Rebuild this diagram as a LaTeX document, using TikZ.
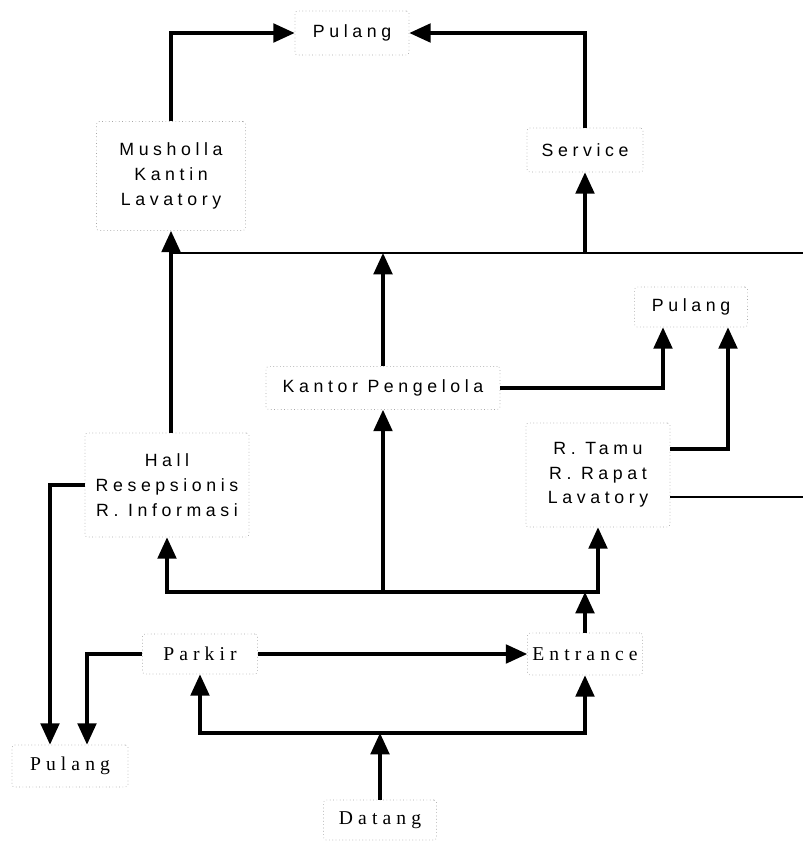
\documentclass[tikz,border=0pt]{standalone}
\usepackage{fontspec}
\setmainfont{Liberation Serif}
\newfontfamily\sansA[LetterSpace=26]{Liberation Sans}
\newfontfamily\serifA[LetterSpace=26]{Liberation Serif}
\usetikzlibrary{arrows.meta,calc}
\begin{document}
\begin{tikzpicture}[x=0.75pt,y=-0.75pt,
 box/.style={draw=black!35, dotted, line width=0.5pt, rounded corners=2pt, inner sep=0pt, align=center},
 sbox/.style={box, font=\sansA\fontsize{13.3}{18.5}\selectfont},
 rbox/.style={box, font=\serifA\fontsize{14.7}{18}\selectfont},
 conn/.style={line width=2.4pt, -{Triangle[length=16pt,width=14pt]}},
 conntwo/.style={line width=2.4pt, {Triangle[length=16pt,width=14pt]}-{Triangle[length=16pt,width=14pt]}},
 plainline/.style={line width=1.7pt}]
\useasboundingbox (0,0) rectangle (803,842);
% nodes
\node[sbox, minimum width=85.5pt, minimum height=33pt] (pTop) at (352,33) {Pulang};
\node[sbox, minimum width=111.75pt, minimum height=81.75pt] (mus) at (171,176) {Musholla\\Kantin\\Lavatory};
\node[sbox, minimum width=87pt, minimum height=33pt] (serv) at (585,150) {Service};
\node[sbox, minimum width=123pt, minimum height=78pt] (hall) at (167,485) {Hall\\Resepsionis\\R. Informasi};
\node[sbox, minimum width=175.5pt, minimum height=32.25pt] (kantor) at (383,388) {Kantor Pengelola};
\node[sbox, minimum width=84.75pt, minimum height=30pt] (pR) at (691,307) {Pulang};
\node[sbox, minimum width=108pt, minimum height=78pt] (tamu) at (598,475) {R. Tamu\\R. Rapat\\Lavatory};
\node[rbox, minimum width=86.25pt, minimum height=30pt] (parkir) at (200,654) {Parkir};
\node[rbox, minimum width=86.25pt, minimum height=31.5pt] (entr) at (585,654) {Entrance};
\node[rbox, minimum width=87pt, minimum height=31.5pt] (pBot) at (70,766) {Pulang};
\node[rbox, minimum width=84.75pt, minimum height=30pt] (datang) at (380,820) {Datang};
% helper coordinates
\coordinate (L1a) at (170,253);
\coordinate (L1b) at (803,253);
\coordinate (L2) at (0,592);
\coordinate (L3) at (0,733);
\coordinate (R2e) at (803,497);
\coordinate (tR1) at ($(tamu.east)+(0,-26)$);
\coordinate (tR2) at ($(tamu.east)+(0,22)$);
\coordinate (pRa) at ($(pR.south)+(-28,0)$);
\coordinate (pRb) at ($(pR.south)+(37,0)$);
\coordinate (pBa) at ($(pBot.north)+(-20,0)$);
\coordinate (pBb) at ($(pBot.north)+(17,0)$);
% connectors
\draw[conn] (mus.north) |- (pTop.west);
\draw[conn] (serv.north) |- (pTop.east);
\draw[plainline] (L1a) -- (L1b);
\draw[conn] (hall.north -| mus.south) -- (mus.south);
\draw[conn] (kantor.north) -- (kantor.north |- L1a);
\draw[conn] (serv.south |- L1a) -- (serv.south);
\draw[conn] (kantor.east) -| (pRa);
\draw[conn] (tR1) -| (pRb);
\draw[plainline] (tR2) -- (R2e);
\draw[conntwo] (hall.south) -- (hall.south |- L2) -- (tamu.south |- L2) -- (tamu.south);
\draw[conn] (kantor.south |- L2) -- (kantor.south);
\draw[conn] (entr.north) -- (entr.north |- L2);
\draw[conn] (parkir.east) -- (entr.west);
\draw[conn] (parkir.west) -| (pBb);
\draw[conn] (hall.west) -| (pBa);
\draw[conntwo] (parkir.south) -- (parkir.south |- L3) -- (entr.south |- L3) -- (entr.south);
\draw[conn] (datang.north) -- (datang.north |- L3);
\end{tikzpicture}
\end{document}
